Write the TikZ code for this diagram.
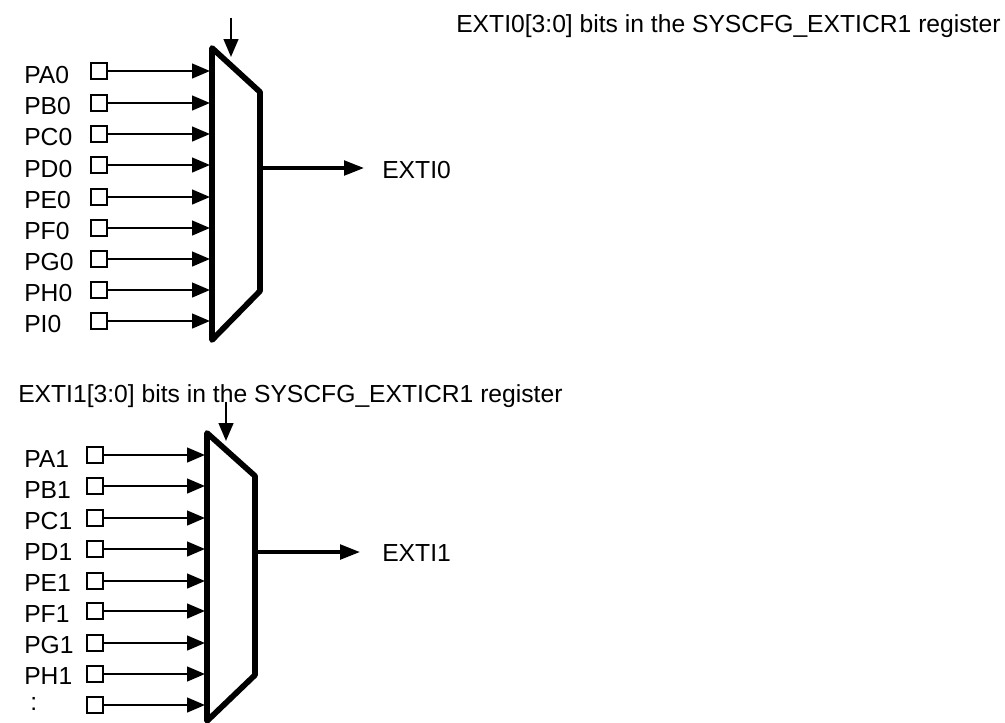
\documentclass[tikz,border=0pt]{standalone}
\usepackage{fontspec}
\setmainfont{Liberation Sans}
\usetikzlibrary{arrows.meta}
\tikzset{
  x=0.75pt,y=-0.75pt,
  pin/.style={draw=black,line width=1.5pt,minimum size=11.5pt,inner sep=0pt,outer sep=0pt},
  lab/.style={anchor=base west,inner sep=0pt,font=\fontsize{18.5pt}{20pt}\selectfont},
  wire/.style={line width=1.8pt,-{Triangle[length=13.5pt,width=11pt]}},
  outwire/.style={line width=2.5pt,-{Triangle[length=15pt,width=11pt]}},
  mux/.style={line width=4.3pt,line join=round}
}
\begin{document}
\begin{tikzpicture}
\useasboundingbox (0,0) rectangle (1005,722);
% top multiplexer
\coordinate (m0a) at (212,48);\coordinate (m0b) at (260,92);\coordinate (m0c) at (260,291);\coordinate (m0d) at (212,340);
\draw[mux] (m0a)--(m0b)--(m0c)--(m0d)--cycle;
\foreach \n/\t/\y/\b in {1/PA0/71/83,2/PB0/103/114,3/PC0/134/145,4/PD0/165/177,5/PE0/197/208,6/PF0/228/239,7/PG0/259/270,8/PH0/290/301,9/PI0/321/332}{
  \node[lab] (tl\n) at (24,\b) {\t};
  \node[pin] (tp\n) at (99,\y) {};
  \coordinate (ti\n) at (210,\y);
  \draw[wire] (tp\n.east) -- (ti\n);
}
\node[lab] (t0) at (456,32) {EXTI0[3:0] bits in the SYSCFG\_EXTICR1 register};
\coordinate (t0s) at (231,18);\coordinate (t0e) at (231,57);
\draw[wire] (t0s) -- (t0e);
\node[lab] (o0) at (382,178) {EXTI0};
\coordinate (o0s) at (260,168);\coordinate (o0e) at (364,168);
\draw[outwire] (o0s) -- (o0e);
% bottom multiplexer
\coordinate (m1a) at (207,433);\coordinate (m1b) at (255,476);\coordinate (m1c) at (255,675);\coordinate (m1d) at (207,721);
\draw[mux] (m1a)--(m1b)--(m1c)--(m1d)--cycle;
\foreach \n/\t/\y/\b in {1/PA1/455/467,2/PB1/486/498,3/PC1/518/529,4/PD1/549/560,5/PE1/581/591,6/PF1/611/622,7/PG1/643/653,8/PH1/674/684,9/{\kern4.5pt:}/705/710}{
  \node[lab] (bl\n) at (24,\b) {\t};
  \node[pin] (bp\n) at (95,\y) {};
  \coordinate (bi\n) at (205,\y);
  \draw[wire] (bp\n.east) -- (bi\n);
}
\node[lab] (t1) at (18,402) {EXTI1[3:0] bits in the SYSCFG\_EXTICR1 register};
\coordinate (t1s) at (226,402);\coordinate (t1e) at (226,441);
\draw[wire] (t1s) -- (t1e);
\node[lab] (o1) at (382,561) {EXTI1};
\coordinate (o1s) at (255,552);\coordinate (o1e) at (360,552);
\draw[outwire] (o1s) -- (o1e);
\end{tikzpicture}
\end{document}
